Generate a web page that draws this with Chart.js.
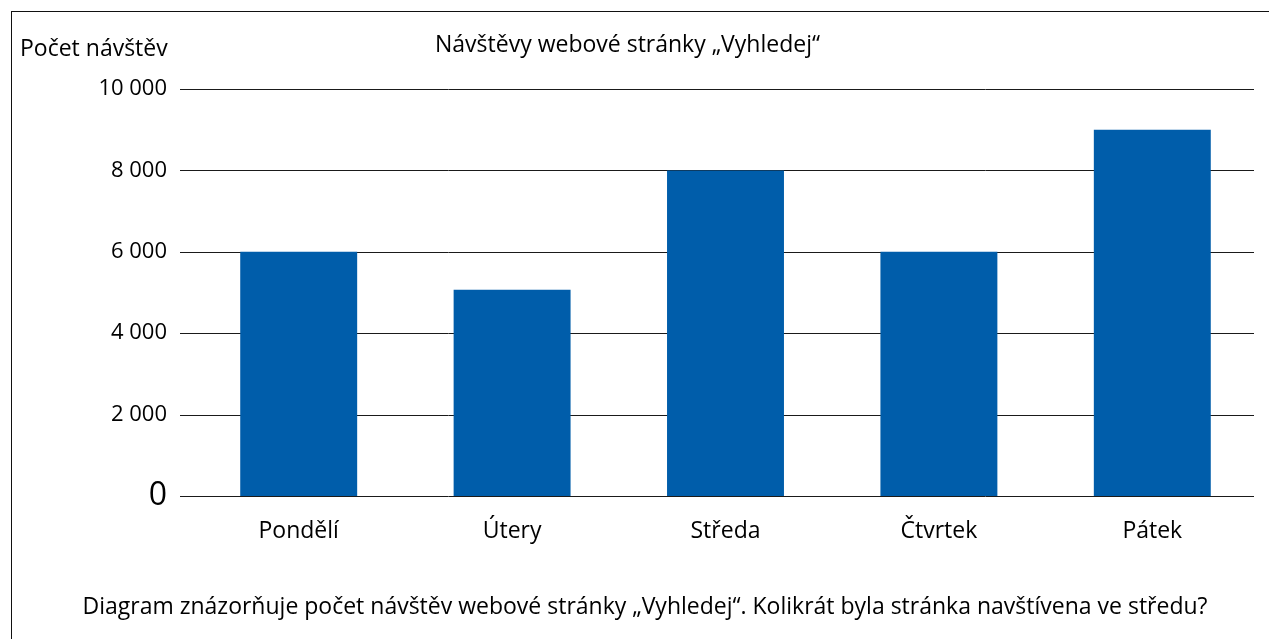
<!DOCTYPE html>
<html>
<head>
<meta charset="utf-8">
<script src="https://cdn.jsdelivr.net/npm/chart.js@4/dist/chart.umd.min.js"></script>
<style>
  html, body { margin: 0; padding: 0; background: #fff; }
  #wrap { position: relative; width: 1269px; height: 639px; overflow: hidden; font-family: "Open Sans", "Noto Sans", sans-serif; color: #000; }
  #frame { position: absolute; left: 11px; top: 11px; width: 1400px; height: 800px; border: 1px solid #111; }
  canvas { position: absolute; left: 0; top: 0; }
  .txt { position: absolute; white-space: nowrap; line-height: 1; }
  #ytitle { left: 20px; top: 36px; font-size: 23px; }
  #title { left: 0; width: 1255px; text-align: center; top: 32px; font-size: 23px; }
  #question { left: 0; width: 1290px; text-align: center; top: 594px; font-size: 23px; }
</style>
</head>
<body>
<div id="wrap">
  <div id="frame"></div>
  <canvas id="c" width="1269" height="639"></canvas>
  <div class="txt" id="ytitle">Počet návštěv</div>
  <div class="txt" id="title">Návštěvy webové stránky „Vyhledej“</div>
  <div class="txt" id="question">Diagram znázorňuje počet návštěv webové stránky „Vyhledej“. Kolikrát byla stránka navštívena ve středu?</div>
</div>
<script>
const categories = ["Pondělí", "Útery", "Středa", "Čtvrtek", "Pátek"];
const visits = [6000, 5070, 8000, 6000, 9000];
const yTicks = [0, 2000, 4000, 6000, 8000, 10000];

const fmt = v => String(v).replace(/\B(?=(\d{3})+(?!\d))/g, " ");
const FONT = "'Open Sans', 'Noto Sans', sans-serif";

const gridPlugin = {
  id: "gridPlugin",
  beforeDatasetsDraw(chart) {
    const y = chart.scales.y;
    const ctx = chart.ctx;
    ctx.save();
    ctx.strokeStyle = "#1a1a1a";
    ctx.lineWidth = 1;
    yTicks.forEach(v => {
      const py = Math.round(y.getPixelForValue(v)) + 0.5;
      ctx.beginPath();
      ctx.moveTo(180, py);
      ctx.lineTo(1254, py);
      ctx.stroke();
    });
    ctx.restore();
  }
};

new Chart(document.getElementById("c"), {
  type: "bar",
  data: {
    labels: categories,
    datasets: [{
      data: visits,
      backgroundColor: "#005DAA",
      borderWidth: 0,
      barPercentage: 0.548,
      categoryPercentage: 1
    }]
  },
  options: {
    responsive: false,
    animation: false,
    events: [],
    layout: { padding: { left: 0, right: 10, top: 89, bottom: 0 } },
    plugins: { legend: { display: false }, tooltip: { enabled: false }, title: { display: false } },
    scales: {
      x: {
        grid: { display: false, drawTicks: false },
        border: { display: false },
        afterFit(scale) { scale.height = 143; },
        ticks: {
          color: "#000",
          padding: 22,
          maxRotation: 0,
          font: { family: FONT, size: 23 }
        }
      },
      y: {
        min: 0,
        max: 10000,
        afterFit(scale) { scale.width = 192; },
        afterBuildTicks(scale) { scale.ticks = yTicks.map(v => ({ value: v })); },
        grid: { display: false, drawTicks: false },
        border: { display: false },
        ticks: {
          color: "#000",
          padding: 25,
          callback: v => fmt(v),
          font: ctx => ({ family: FONT, size: (ctx.tick && ctx.tick.value === 0) ? 32 : 22 })
        }
      }
    }
  },
  plugins: [gridPlugin]
});
</script>
</body>
</html>
